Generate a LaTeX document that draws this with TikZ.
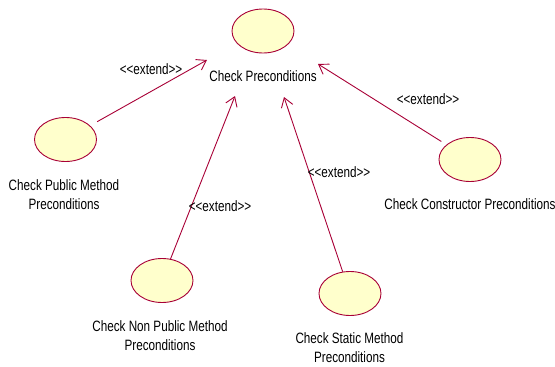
\documentclass[tikz,border=0pt]{standalone}
\usepackage{fontspec}
\setmainfont[FakeStretch=0.78]{Liberation Sans}
\usetikzlibrary{arrows.meta,shapes.geometric}
\definecolor{umlline}{HTML}{A80036}
\definecolor{umlfill}{HTML}{FFFFCC}
\tikzset{
  usecase/.style={draw=umlline,fill=umlfill,ellipse,line width=0.9pt,minimum width=62pt,minimum height=44pt,inner sep=0pt},
  extendarrow/.style={draw=umlline,line width=0.9pt,-{Straight Barb[length=9pt,width=12pt,line width=0.9pt]}},
  lbl/.style={font=\fontsize{15}{19}\selectfont,align=center,text=black,inner sep=0pt},
}
\begin{document}
\begin{tikzpicture}[x=1pt,y=-1pt]
\useasboundingbox (0,0) rectangle (555,367);
\node[usecase] (top) at (263,31) {};
\node[usecase] (pub) at (65.5,139.5) {};
\node[usecase] (con) at (470,159.5) {};
\node[usecase] (non) at (162,280.5) {};
\node[usecase] (sta) at (350,293.5) {};
\node[lbl] (toplabel) at (263,76) {Check Preconditions};
\node[lbl] (publabel) at (64,195) {Check Public Method\\Preconditions};
\node[lbl] (conlabel) at (470,204) {Check Constructor Preconditions};
\node[lbl] (nonlabel) at (160,335.5) {Check Non Public Method\\Preconditions};
\node[lbl] (stalabel) at (349.5,348) {Check Static Method\\Preconditions};
\coordinate (tipa) at (207,60);
\coordinate (tipb) at (235,96);
\coordinate (tipc) at (284,97);
\coordinate (tipd) at (318,64);
\draw[extendarrow,shorten <=8pt] (pub) -- (tipa);
\draw[extendarrow] (non) -- (tipb);
\draw[extendarrow] (sta) -- (tipc);
\draw[extendarrow,shorten <=6pt] (con) -- (tipd);
\node[lbl] (exa) at (151,69.5) {<{}<extend>{}>};
\node[lbl] (exb) at (220,206) {<{}<extend>{}>};
\node[lbl] (exc) at (339,172) {<{}<extend>{}>};
\node[lbl] (exd) at (428,99.5) {<{}<extend>{}>};
\end{tikzpicture}
\end{document}
